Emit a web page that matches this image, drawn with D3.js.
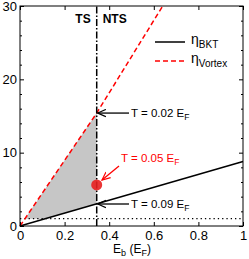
<!DOCTYPE html>
<html>
<head>
<meta charset="utf-8">
<script src="https://cdn.jsdelivr.net/npm/d3@7"></script>
<style>
body { margin: 0; background: #fff; }
text { font-family: "Liberation Sans", Arial, sans-serif; }
</style>
</head>
<body>
<svg id="chart" width="249" height="259"></svg>
<script>
// values
var bktEb = [0, 1];
var bktEta = [0, 8.8];
var vortexEb = [0, 0.344, 0.64];
var vortexEta = [0, 15.4, 30];
var shadeEb = [0.022, 0.114, 0.344];
var shadeTop = [1, 5.1, 15.4];
var shadeBottom = [1, 1, 3.0];
var etaFloor = 1;
var ebSplit = 0.344;
var dotPoint = [0.344, 5.6];
var xTicks = [0, 0.2, 0.4, 0.6, 0.8, 1];
var yTicks = [0, 10, 20, 30];
var yMinor = [2, 4, 6, 8, 12, 14, 16, 18, 22, 24, 26, 28];
var arrowLabels = [
  { text: "T = 0.02 E", eta: 15.4, color: "black" },
  { text: "T = 0.09 E", eta: 3.0, color: "black" }
];

var svg = d3.select("#chart");
var x = d3.scaleLinear().domain([0, 1]).range([20, 243]);
var y = d3.scaleLinear().domain([0, 30]).range([226, 6]);

var defs = svg.append("defs");
defs.append("marker").attr("id", "headK")
    .attr("viewBox", "0 0 10 10").attr("refX", 9).attr("refY", 5)
    .attr("markerWidth", 7).attr("markerHeight", 7).attr("orient", "auto")
  .append("path").attr("d", "M0,1 L9,5 L0,9").attr("fill", "none")
    .attr("stroke", "black").attr("stroke-width", 1.3);
defs.append("marker").attr("id", "headR")
    .attr("viewBox", "0 0 10 10").attr("refX", 9).attr("refY", 5)
    .attr("markerWidth", 7).attr("markerHeight", 7).attr("orient", "auto")
  .append("path").attr("d", "M0,1 L9,5 L0,9").attr("fill", "none")
    .attr("stroke", "red").attr("stroke-width", 1.3);

// shaded region
var area = d3.area()
    .x(function (d, i) { return x(shadeEb[i]); })
    .y0(function (d, i) { return y(shadeBottom[i]); })
    .y1(function (d, i) { return y(shadeTop[i]); });
svg.append("path").attr("d", area(shadeEb)).attr("fill", "#c6c6c6");

// dotted floor
svg.append("line")
    .attr("x1", x(0)).attr("x2", x(1)).attr("y1", y(etaFloor)).attr("y2", y(etaFloor))
    .attr("stroke", "black").attr("stroke-width", 1.3).attr("stroke-dasharray", "1.3,3");

var line = d3.line();
svg.append("path")
    .attr("d", line(bktEb.map(function (d, i) { return [x(d), y(bktEta[i])]; })))
    .attr("fill", "none").attr("stroke", "black").attr("stroke-width", 1.5);
svg.append("path")
    .attr("d", line(vortexEb.map(function (d, i) { return [x(d), y(vortexEta[i])]; })))
    .attr("fill", "none").attr("stroke", "red").attr("stroke-width", 1.5)
    .attr("stroke-dasharray", "5,3");

// TS / NTS split
svg.append("line")
    .attr("x1", x(ebSplit)).attr("x2", x(ebSplit)).attr("y1", y(0)).attr("y2", y(30))
    .attr("stroke", "black").attr("stroke-width", 1.5)
    .attr("stroke-dasharray", "7,2,1.5,2");

svg.append("circle")
    .attr("cx", x(dotPoint[0])).attr("cy", y(dotPoint[1])).attr("r", 5.5)
    .attr("fill", "#e82020").attr("fill-opacity", 0.9);

// axes frame and ticks
svg.append("rect").attr("x", x(0)).attr("y", y(30))
    .attr("width", x(1) - x(0)).attr("height", y(0) - y(30))
    .attr("fill", "none").attr("stroke", "black").attr("stroke-width", 1);

function styleAxis(g) {
  g.select(".domain").remove();
  g.selectAll("text").attr("font-size", 13).attr("fill", "black")
    .style("font-family", "'Liberation Sans', Arial, sans-serif");
}
svg.append("g").attr("transform", "translate(0," + y(0) + ")")
    .call(d3.axisBottom(x).tickValues(xTicks).tickSize(-4).tickPadding(5)
      .tickFormat(function (d) { return d === 0 || d === 1 ? d3.format("d")(d) : d3.format(".1f")(d); }))
    .call(styleAxis);
svg.append("g").attr("transform", "translate(0," + y(30) + ")")
    .call(d3.axisTop(x).tickValues(xTicks).tickSize(-4).tickFormat(""))
    .call(styleAxis);
svg.append("g").attr("transform", "translate(" + x(0) + ",0)")
    .call(d3.axisLeft(y).tickValues(yTicks).tickSize(-4).tickPadding(3))
    .call(styleAxis);
svg.append("g").attr("transform", "translate(" + x(1) + ",0)")
    .call(d3.axisRight(y).tickValues(yTicks).tickSize(-4).tickFormat(""))
    .call(styleAxis);
svg.append("g").attr("transform", "translate(" + x(0) + ",0)")
    .call(d3.axisLeft(y).tickValues(yMinor).tickSize(-2).tickFormat(""))
    .call(styleAxis);
svg.append("g").attr("transform", "translate(" + x(1) + ",0)")
    .call(d3.axisRight(y).tickValues(yMinor).tickSize(-2).tickFormat(""))
    .call(styleAxis);

// region labels
svg.append("text").attr("x", x(ebSplit) - 6).attr("y", 23).attr("text-anchor", "end")
    .attr("font-size", 12).attr("font-weight", "bold").text("TS");
svg.append("text").attr("x", x(ebSplit) + 6).attr("y", 23)
    .attr("font-size", 12).attr("font-weight", "bold").text("NTS");

// arrow annotations
arrowLabels.forEach(function (a) {
  var yy = y(a.eta);
  svg.append("line").attr("x1", 129).attr("y1", yy).attr("x2", x(ebSplit) + 1).attr("y2", yy)
      .attr("stroke", a.color).attr("stroke-width", 1.3).attr("marker-end", "url(#headK)");
  var t = svg.append("text").attr("x", 131).attr("y", yy + 4).attr("font-size", 11.5)
      .attr("fill", a.color).text(a.text);
  t.append("tspan").attr("font-size", 8.5).attr("dy", 3).text("F");
});
svg.append("line").attr("x1", 119).attr("y1", 166).attr("x2", 102).attr("y2", 180)
    .attr("stroke", "red").attr("stroke-width", 1.3).attr("marker-end", "url(#headR)");
var rt = svg.append("text").attr("x", 121).attr("y", 162).attr("font-size", 11.5)
    .attr("fill", "red").text("T = 0.05 E");
rt.append("tspan").attr("font-size", 8.5).attr("dy", 3).text("F");

// legend
var legend = [
  { name: "BKT", color: "black", dash: null, yy: 42 },
  { name: "Vortex", color: "red", dash: "5,3", yy: 61 }
];
legend.forEach(function (l) {
  svg.append("line").attr("x1", 155).attr("x2", 185).attr("y1", l.yy).attr("y2", l.yy)
      .attr("stroke", l.color).attr("stroke-width", 1.5).attr("stroke-dasharray", l.dash);
  var t = svg.append("text").attr("x", 191).attr("y", l.yy + 2).attr("font-size", 14).text("η");
  t.append("tspan").attr("font-size", 10).attr("dy", 4).text(l.name);
});

// x label
var xl = svg.append("text").attr("x", 132).attr("y", 253).attr("text-anchor", "middle")
    .attr("font-size", 12).text("E");
xl.append("tspan").attr("font-size", 9).attr("dy", 3).text("b");
xl.append("tspan").attr("font-size", 12).attr("dy", -3).text(" (E");
xl.append("tspan").attr("font-size", 9).attr("dy", 3).text("F");
xl.append("tspan").attr("font-size", 12).attr("dy", -3).text(")");
</script>
</body>
</html>
